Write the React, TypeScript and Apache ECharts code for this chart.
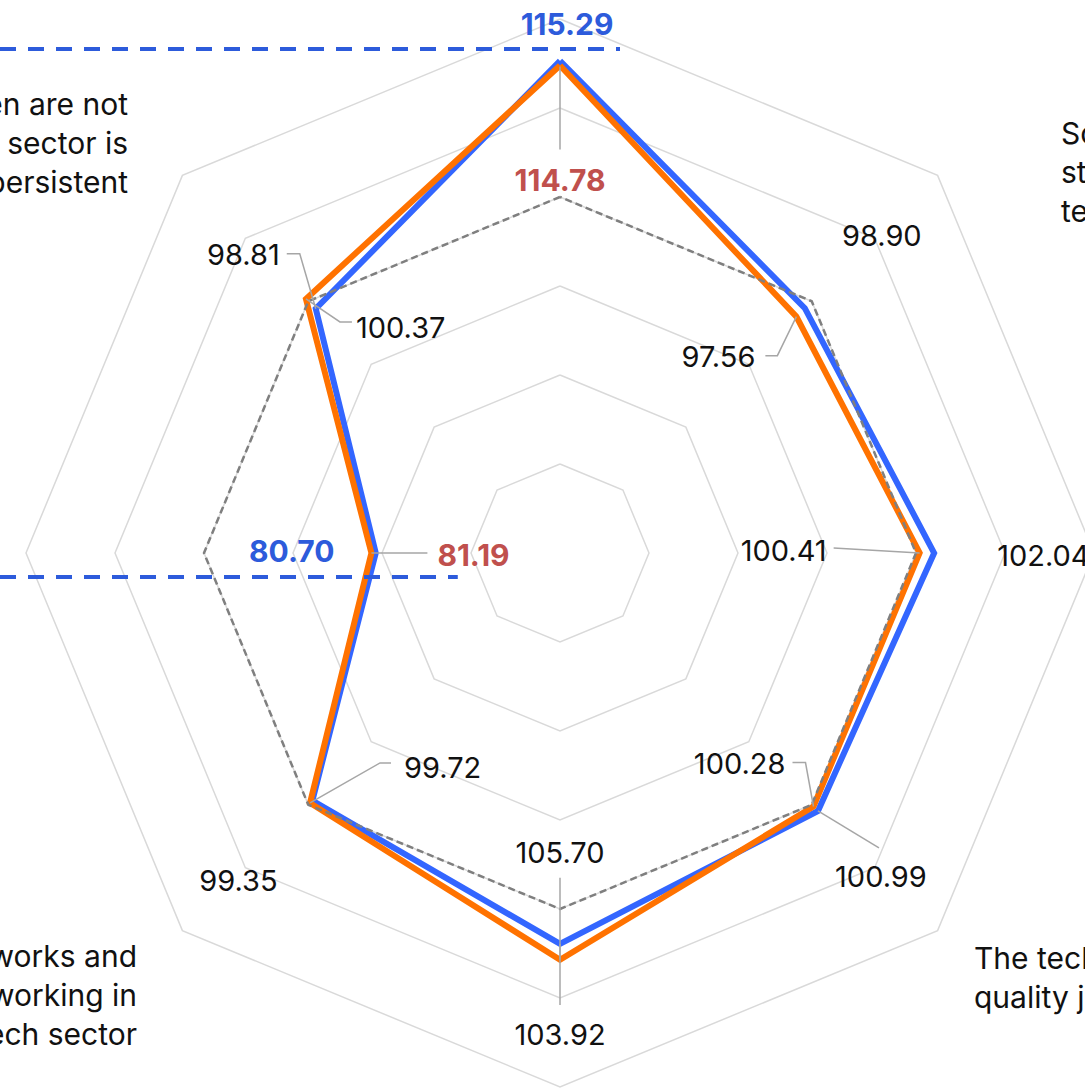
import React, { useEffect, useRef } from "react";
import * as echarts from "echarts";

// ---- data ----
// indicator order: counter-clockwise from the top (ECharts radar default)
const indicatorNames = ["Top", "Upper left", "Left", "Lower left", "Bottom", "Lower right", "Right", "Upper right"];
const blueValues = [115.29, 98.81, 80.7, 99.35, 103.92, 100.99, 102.04, 98.9];
const orangeValues = [114.78, 100.37, 81.19, 99.72, 105.7, 100.28, 100.41, 97.56];
const baselineValues = [100, 100, 100, 100, 100, 100, 100, 100];
const axisMin = 60;
const axisMax = 120;
const ringCount = 6;

// visible axis names (upper-left, upper-right, lower-right, lower-left)
const nameUpperLeft = "Women are not\nthe tech sector is\npersistent";
const nameUpperRight = "Schools do not\nstimulate interest in\ntech careers";
const nameLowerRight = "The tech sector offers\nquality jobs";
const nameLowerLeft = "Role models, networks and\nmentoring for women working in\nthe tech sector";

// ---- style ----
const FONT = "Inter, 'Open Sans', sans-serif";
const BLUE = "#3366ff";
const ORANGE = "#ff7200";
const BLUE_TEXT = "#2d5bdb";
const RED_TEXT = "#c0504d";
const LEADER = "#a6a6a6";

type LabelLayout = { dx: number; dy: number; align: "left" | "right" | "center"; leader?: number[][] };

// label offsets relative to each vertex
const blueLayout: LabelLayout[] = [
  { dx: 7, dy: -37, align: "center" },
  { dx: -36, dy: -54, align: "right", leader: [[-29, -55], [-16, -55], [0, 0]] },
  { dx: -84, dy: -2, align: "center" },
  { dx: -74, dy: 80, align: "center" },
  { dx: 0, dy: 91, align: "center", leader: [[0, 61], [0, 0]] },
  { dx: 63, dy: 66, align: "center", leader: [[0, 0], [61, 37]] },
  { dx: 63, dy: 2, align: "left" },
  { dx: 77, dy: -73, align: "center" },
];
const orangeLayout: LabelLayout[] = [
  { dx: 0, dy: 115, align: "center", leader: [[0, 1], [0, 84]] },
  { dx: 50, dy: 29, align: "left", leader: [[46, 23], [34, 23], [0, 0]] },
  { dx: 66, dy: 2, align: "left", leader: [[0, 0], [56, 0]] },
  { dx: 94, dy: -35, align: "left", leader: [[81, -40], [70, -40], [0, 0]] },
  { dx: 0, dy: -107, align: "center", leader: [[0, -82], [0, 0]] },
  { dx: -28, dy: -43, align: "right", leader: [[-21, -44], [-8, -44], [0, 0]] },
  { dx: -93, dy: -3, align: "right", leader: [[-86, -5], [0, 0]] },
  { dx: -41, dy: 40, align: "right", leader: [[-31, 39], [-19, 39], [0, 0]] },
];

export default function App() {
  const ref = useRef<HTMLDivElement>(null);
  useEffect(() => {
    if (!ref.current) return;
    const chart = echarts.init(ref.current, undefined, { renderer: "svg" });
    const center = [560, 553];
    const radius = 534;
    chart.setOption({
      animation: false,
      backgroundColor: "#ffffff",
      radar: {
        center,
        radius,
        startAngle: 90,
        splitNumber: ringCount,
        shape: "polygon",
        indicator: indicatorNames.map((n) => ({ name: n, min: axisMin, max: axisMax })),
        axisName: { show: false },
        axisLine: { show: false },
        axisTick: { show: false },
        axisLabel: { show: false },
        splitArea: { show: false },
        splitLine: { lineStyle: { color: "#d9d9d9", width: 1.5 } },
      },
      series: [
        {
          type: "radar",
          symbol: "none",
          z: 2,
          data: [
            { name: "Blue", value: blueValues, lineStyle: { color: BLUE, width: 6, join: "miter", miterLimit: 20 } },
            { name: "Orange", value: orangeValues, lineStyle: { color: ORANGE, width: 6, join: "miter", miterLimit: 20 } },
            { name: "Baseline", value: baselineValues, lineStyle: { color: "#7f7f7f", width: 2.5, type: [7, 4] } },
          ],
        },
      ],
    });

    const model: any = (chart as any).getModel();
    const radarCS: any = model?.getComponent("radar", 0)?.coordinateSystem;
    const toPoint = (v: number, i: number): number[] => {
      if (radarCS && radarCS.dataToPoint) return radarCS.dataToPoint(v, i);
      const r = ((v - axisMin) / (axisMax - axisMin)) * radius;
      const a = ((90 + 45 * i) * Math.PI) / 180;
      return [center[0] + r * Math.cos(a), center[1] - r * Math.sin(a)];
    };

    const elements: any[] = [];
    const addLabels = (values: number[], layout: LabelLayout[], extremeColor: string) => {
      const maxV = Math.max(...values);
      const minV = Math.min(...values);
      values.forEach((v, i) => {
        const p = toPoint(v, i);
        const l = layout[i];
        const extreme = v === maxV || v === minV;
        if (l.leader) {
          elements.push({
            type: "polyline",
            z: 50,
            shape: { points: l.leader.map((q) => [p[0] + q[0], p[1] + q[1]]) },
            style: { stroke: LEADER, lineWidth: 1.5, fill: null },
          });
        }
        elements.push({
          type: "text",
          z: 60,
          x: p[0] + l.dx,
          y: p[1] + l.dy,
          style: {
            text: v.toFixed(2),
            fill: extreme ? extremeColor : "#111111",
            font: extreme ? `bold 30px ${FONT}` : `29px ${FONT}`,
            align: l.align,
            verticalAlign: "middle",
            textAlign: l.align,
            textVerticalAlign: "middle",
          },
        });
      });
    };
    addLabels(blueValues, blueLayout, BLUE_TEXT);
    addLabels(orangeValues, orangeLayout, RED_TEXT);

    // dashed guide lines at blue max / min
    const bMaxIdx = blueValues.indexOf(Math.max(...blueValues));
    const bMinIdx = blueValues.indexOf(Math.min(...blueValues));
    const pMax = toPoint(blueValues[bMaxIdx], bMaxIdx);
    const pMin = toPoint(blueValues[bMinIdx], bMinIdx);
    elements.push({
      type: "line",
      z: 40,
      shape: { x1: 0, y1: pMax[1] - 12, x2: pMax[0] + 60, y2: pMax[1] - 12 },
      style: { stroke: BLUE_TEXT, lineWidth: 4, lineDash: [16, 12] },
    });
    elements.push({
      type: "line",
      z: 40,
      shape: { x1: 0, y1: pMin[1] + 24, x2: pMin[0] + 82, y2: pMin[1] + 24 },
      style: { stroke: BLUE_TEXT, lineWidth: 4, lineDash: [16, 12] },
    });

    const nameStyle = (text: string, align: string) => ({
      text,
      fill: "#111111",
      font: `30px ${FONT}`,
      lineHeight: 39,
      align,
      verticalAlign: "middle",
      textAlign: align,
      textVerticalAlign: "middle",
    });
    elements.push({ type: "text", z: 60, x: 128, y: 143, style: nameStyle(nameUpperLeft, "right") });
    elements.push({ type: "text", z: 60, x: 1061, y: 172, style: nameStyle(nameUpperRight, "left") });
    elements.push({ type: "text", z: 60, x: 974, y: 977, style: nameStyle(nameLowerRight, "left") });
    elements.push({ type: "text", z: 60, x: 137, y: 995, style: nameStyle(nameLowerLeft, "right") });

    chart.setOption({ graphic: { elements } });

    return () => chart.dispose();
  }, []);
  return (
    <div
      ref={ref}
      style={{ position: "absolute", left: 0, top: 0, width: 1085, height: 1088, background: "#fff" }}
    />
  );
}
